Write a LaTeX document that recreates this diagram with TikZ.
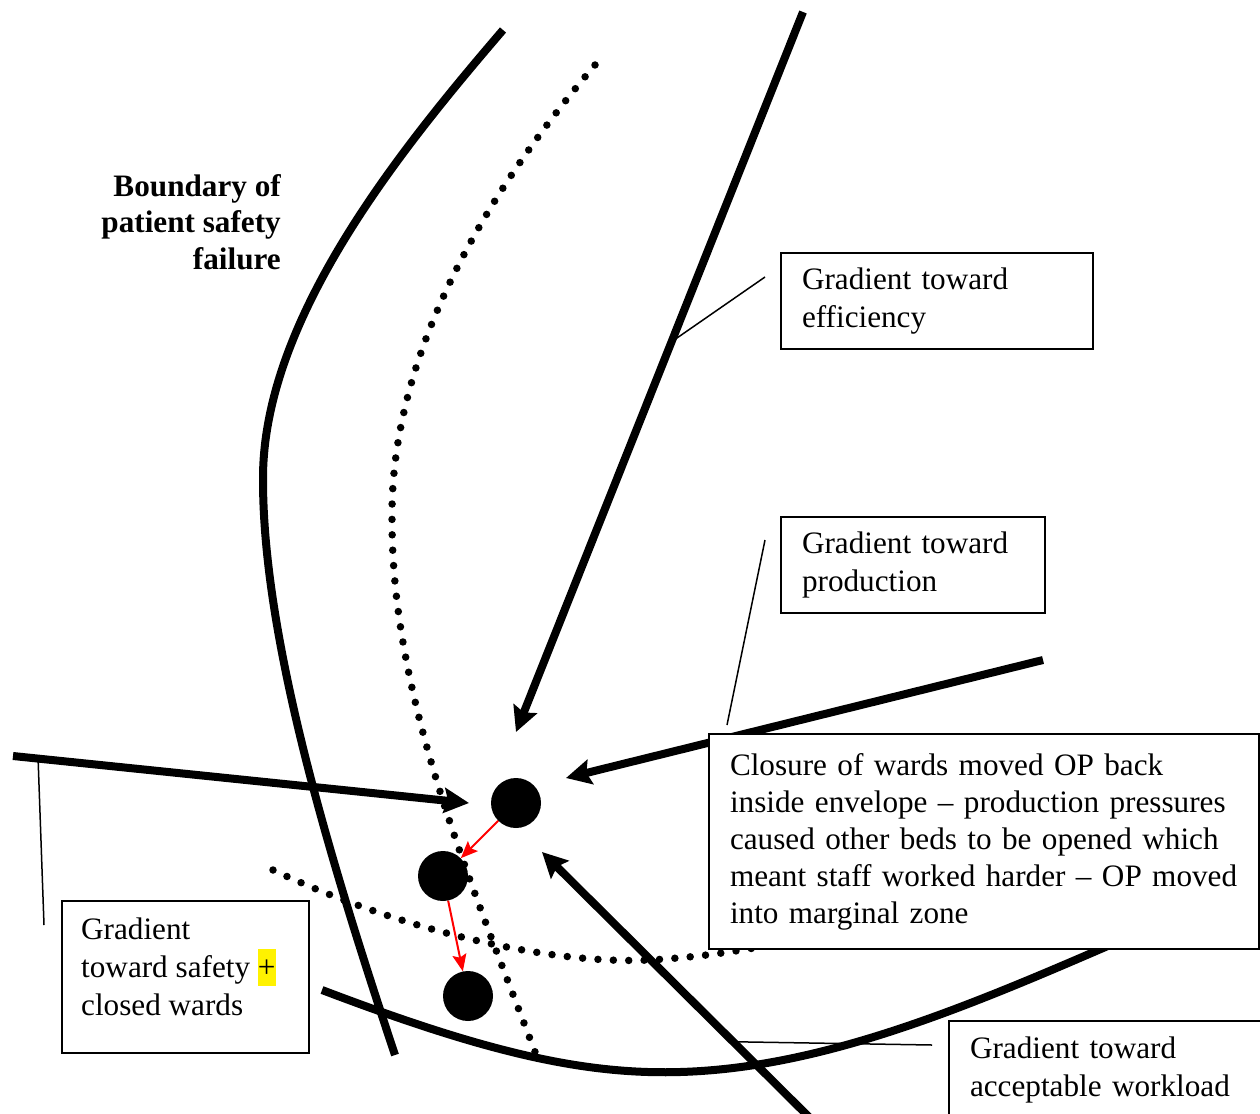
\documentclass[tikz,border=0pt]{standalone}
\usepackage{fontspec}
\setmainfont{Liberation Serif}
\usetikzlibrary{arrows.meta}
\begin{document}
\begin{tikzpicture}[x=1pt,y=-1pt,
  bound/.style={line width=8pt},
  gradarrow/.style={line width=8pt,-{Stealth[length=25pt,width=25pt,inset=4pt]}},
  dotline/.style={line width=7.5pt,line cap=round,dash pattern=on 0pt off 15.4pt},
  boxtext/.style={font=\fontsize{31.2}{38}\selectfont},
  gbox/.style={draw,line width=2pt,fill=white,anchor=north west,inner xsep=21pt,
    inner ysep=0pt,align=left,boxtext},
  leader/.style={line width=1.5pt},
  opoint/.style={circle,fill=black,minimum size=50pt,inner sep=0pt},
  drift/.style={red,line width=2pt,-{Stealth[length=17pt,width=14pt,inset=3pt]}}]

\clip (0,0) rectangle (1260,1113);
\fill[white] (0,0) rectangle (1260,1113);

% marginal zone (dotted)
\draw[dotline] (595,65) .. controls (480,200) and (390,360) .. (392,520)
  .. controls (392,700) and (470,880) .. (540,1065);
\draw[dotline] (273,870) .. controls (400,930) and (550,965) .. (650,960)
  .. controls (700,957) and (730,952) .. (760,947);

% boundaries
\draw[bound] (503,30) .. controls (400,150) and (262,320) .. (263,480)
  .. controls (263,640) and (330,860) .. (395,1055);
\draw[bound] (322,990) .. controls (480,1050) and (580,1075) .. (680,1072)
  .. controls (820,1068) and (960,1010) .. (1110,945);

% operating points
\node[opoint] (op1) at (516,803) {};
\node[opoint] (op2) at (443,876) {};
\node[opoint] (op3) at (468,996) {};

% gradients
\coordinate (effS) at (803,12);
\coordinate (effT) at (516,732);
\coordinate (prodS) at (1043,660);
\coordinate (prodT) at (566,778);
\coordinate (safeS) at (13,756);
\coordinate (safeT) at (469,803);
\coordinate (workS) at (812,1120);
\coordinate (workT) at (542,852);
\draw[gradarrow] (effS) -- coordinate[pos=0.458] (effL) (effT);
\draw[gradarrow] (prodS) -- (prodT);
\draw[gradarrow] (safeS) -- coordinate[pos=0.055] (safeL) (safeT);
\draw[gradarrow] (workS) -- coordinate[pos=0.292] (workL) (workT);

% drift of the operating point
\draw[drift] (op1) -- (op2);
\draw[drift] (op2) -- (op3);

% labels
\node[font=\fontsize{31.2}{36.5}\selectfont\bfseries,align=right,anchor=north east,inner sep=0pt]
  (blabel) at (281,174) {Boundary of\\patient safety\\failure};

\node[gbox,minimum width=312pt,minimum height=96pt,text width=270pt] (eff) at (780,252)
  {Gradient toward\\efficiency};
\node[gbox,minimum width=264pt,minimum height=96pt,text width=222pt] (prod) at (780,516)
  {Gradient toward\\production};
\node[gbox,minimum width=550pt,minimum height=215pt,text width=508pt,
  font=\fontsize{31.2}{37}\selectfont] (note) at (708,733)
  {Closure of wards moved OP back\\
   \mbox{inside envelope – production pressures}\\
   \mbox{caused other beds to be opened which}\\
   \mbox{meant staff worked harder – OP moved}\\
   into marginal zone};
\node[gbox,minimum width=247pt,minimum height=152pt] (safe) at (61,900) {};
\node[boxtext,align=left,anchor=north west,inner sep=0pt] (safetext) at (81,918)
  {Gradient\\toward safety {\setlength{\fboxsep}{0pt}\colorbox{yellow}{\rule[-8pt]{0pt}{37pt}+}}\\closed wards};
\node[gbox,minimum width=340pt,minimum height=98pt,text width=298pt] (work) at (948,1020)
  {Gradient toward\\acceptable workload};

% leader lines
\coordinate (effE) at (765,277);
\coordinate (prodA) at (765,540);
\coordinate (prodB) at (727,725);
\coordinate (safeE) at (44,925);
\coordinate (workE) at (932,1045);
\draw[leader] (effE) -- (effL);
\draw[leader] (prodA) -- (prodB);
\draw[leader] (safeL) -- (safeE);
\draw[leader] (workL) -- (workE);
\end{tikzpicture}
\end{document}
